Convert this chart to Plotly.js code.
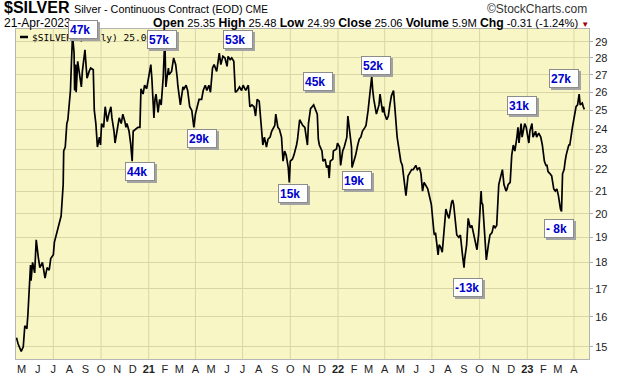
<!DOCTYPE html>
<html>
<head>
<meta charset="utf-8">
<script src="https://cdn.plot.ly/plotly-3.0.1.min.js"></script>
<style>html,body{margin:0;padding:0;background:#fff;}#chart{width:620px;height:376px;}</style>
</head>
<body>
<div id="chart"></div>
<script>
// ---- data: $SILVER daily close ----
const dates = [
"2020-04-21","2020-04-24","2020-04-30","2020-05-04","2020-05-07","2020-05-11","2020-05-13","2020-05-15","2020-05-18","2020-05-19",
"2020-05-22","2020-05-26","2020-05-29","2020-06-02","2020-06-05","2020-06-10","2020-06-15","2020-06-19","2020-06-23","2020-06-26",
"2020-07-01","2020-07-03","2020-07-08","2020-07-13","2020-07-16","2020-07-20","2020-07-21","2020-07-24","2020-07-27","2020-07-29",
"2020-08-03","2020-08-05","2020-08-07","2020-08-10","2020-08-11","2020-08-13","2020-08-14","2020-08-17","2020-08-20","2020-08-24",
"2020-08-26","2020-08-31","2020-09-02","2020-09-04","2020-09-08","2020-09-11","2020-09-16","2020-09-18","2020-09-21","2020-09-24",
"2020-09-28","2020-09-30","2020-10-02","2020-10-06","2020-10-09","2020-10-13","2020-10-16","2020-10-20","2020-10-22","2020-10-26",
"2020-10-28","2020-11-02","2020-11-05","2020-11-09","2020-11-12","2020-11-16","2020-11-18","2020-11-20","2020-11-24","2020-11-27",
"2020-11-30","2020-12-02","2020-12-07","2020-12-11","2020-12-15","2020-12-17","2020-12-21","2020-12-24","2020-12-28","2020-12-31",
"2021-01-05","2021-01-07","2021-01-11","2021-01-13","2021-01-15","2021-01-19","2021-01-22","2021-01-25","2021-01-27","2021-01-29",
"2021-02-01","2021-02-02","2021-02-03","2021-02-05","2021-02-08","2021-02-09","2021-02-14","2021-02-18","2021-02-22","2021-02-25",
"2021-02-26","2021-03-03","2021-03-08","2021-03-10","2021-03-14","2021-03-17","2021-03-21","2021-03-25","2021-03-29","2021-04-01",
"2021-04-05","2021-04-08","2021-04-13","2021-04-16","2021-04-20","2021-04-23","2021-04-27","2021-04-30","2021-05-04","2021-05-07",
"2021-05-12","2021-05-17","2021-05-20","2021-05-24","2021-05-28","2021-06-01","2021-06-03","2021-06-07","2021-06-10","2021-06-14",
"2021-06-17","2021-06-21","2021-06-25","2021-06-29","2021-07-02","2021-07-07","2021-07-12","2021-07-15","2021-07-19","2021-07-23",
"2021-07-26","2021-07-29","2021-08-02","2021-08-06","2021-08-09","2021-08-12","2021-08-16","2021-08-19","2021-08-23","2021-08-26",
"2021-08-30","2021-09-01","2021-09-03","2021-09-07","2021-09-10","2021-09-14","2021-09-17","2021-09-20","2021-09-23","2021-09-27",
"2021-09-29","2021-10-01","2021-10-05","2021-10-08","2021-10-13","2021-10-15","2021-10-19","2021-10-25","2021-10-29","2021-11-01",
"2021-11-03","2021-11-05","2021-11-09","2021-11-15","2021-11-18","2021-11-22","2021-11-24","2021-11-26","2021-12-01","2021-12-03",
"2021-12-07","2021-12-10","2021-12-13","2021-12-15","2021-12-17","2021-12-22","2021-12-23","2021-12-29","2021-12-31","2022-01-04",
"2022-01-06","2022-01-10","2022-01-13","2022-01-18","2022-01-20","2022-01-24","2022-01-27","2022-01-28","2022-02-01","2022-02-04",
"2022-02-08","2022-02-11","2022-02-14","2022-02-17","2022-02-22","2022-02-24","2022-02-28","2022-03-02","2022-03-04","2022-03-07",
"2022-03-09","2022-03-11","2022-03-16","2022-03-21","2022-03-23","2022-03-28","2022-03-30","2022-04-01","2022-04-05","2022-04-08",
"2022-04-11","2022-04-14","2022-04-18","2022-04-20","2022-04-21","2022-04-25","2022-04-27","2022-04-29","2022-05-02","2022-05-05",
"2022-05-09","2022-05-12","2022-05-16","2022-05-18","2022-05-23","2022-05-26","2022-05-31","2022-06-03","2022-06-07","2022-06-10",
"2022-06-13","2022-06-16","2022-06-21","2022-06-23","2022-06-27","2022-06-30","2022-07-05","2022-07-06","2022-07-08","2022-07-13",
"2022-07-15","2022-07-18","2022-07-21","2022-07-25","2022-07-28","2022-08-01","2022-08-03","2022-08-08","2022-08-10","2022-08-12",
"2022-08-15","2022-08-18","2022-08-22","2022-08-25","2022-08-29","2022-09-01","2022-09-02","2022-09-06","2022-09-09","2022-09-13",
"2022-09-16","2022-09-19","2022-09-22","2022-09-26","2022-09-29","2022-10-04","2022-10-05","2022-10-07","2022-10-10","2022-10-12",
"2022-10-14","2022-10-18","2022-10-21","2022-10-25","2022-10-28","2022-10-31","2022-11-03","2022-11-07","2022-11-10","2022-11-14",
"2022-11-17","2022-11-21","2022-11-23","2022-11-25","2022-11-29","2022-12-01","2022-12-02","2022-12-05","2022-12-08","2022-12-12",
"2022-12-14","2022-12-16","2022-12-20","2022-12-22","2022-12-27","2022-12-30","2023-01-04","2023-01-06","2023-01-10","2023-01-12",
"2023-01-17","2023-01-19","2023-01-23","2023-01-27","2023-01-30","2023-02-03","2023-02-06","2023-02-08","2023-02-10","2023-02-14",
"2023-02-17","2023-02-21","2023-02-24","2023-02-27","2023-03-02","2023-03-06","2023-03-08","2023-03-10","2023-03-13","2023-03-15",
"2023-03-17","2023-03-22","2023-03-24","2023-03-29","2023-04-03","2023-04-05","2023-04-08","2023-04-11","2023-04-13","2023-04-17",
"2023-04-19","2023-04-21"
];
const closes = [
15.30,15.10,14.85,15.00,15.70,15.60,16.10,16.70,17.90,17.30,
18.00,17.60,18.90,18.20,17.80,18.00,17.40,17.80,17.70,18.15,
18.30,18.80,19.20,19.70,19.90,21.30,22.90,23.10,24.30,24.50,
26.10,27.80,29.40,28.30,26.10,27.60,26.00,27.80,27.00,26.30,
27.20,28.50,27.60,26.80,27.20,27.40,27.30,25.00,24.30,23.10,
23.60,23.20,24.30,24.10,25.20,24.40,24.80,25.20,24.60,23.90,
23.30,24.10,24.60,24.30,24.80,24.40,24.10,24.30,23.90,23.30,
22.40,23.90,24.00,24.10,24.10,26.20,25.90,26.40,26.20,26.70,
27.60,26.80,24.60,25.60,25.90,24.90,25.60,25.30,25.90,26.90,
29.30,26.60,26.30,26.80,27.40,27.00,27.20,28.00,27.60,26.80,
26.40,25.30,26.30,26.20,26.40,26.10,25.20,25.00,24.10,24.80,
25.30,25.60,25.60,26.10,26.40,26.10,26.40,26.00,27.40,27.60,
27.20,28.30,27.60,28.10,28.00,27.50,28.10,27.90,28.00,27.80,
26.00,26.10,26.30,26.10,26.40,26.10,26.40,25.20,25.30,25.20,
24.70,25.60,25.50,24.10,23.20,23.60,23.10,23.50,23.60,23.90,
24.10,24.20,24.80,24.10,24.00,23.60,22.40,22.90,22.70,22.10,
21.40,22.40,22.50,22.70,23.20,23.50,24.50,24.20,24.10,23.60,
23.20,24.30,25.10,25.30,25.10,24.80,23.50,23.20,22.90,22.40,
22.50,22.10,22.20,21.60,22.40,22.50,22.90,23.00,23.30,23.10,
22.20,22.90,23.10,23.60,24.70,23.90,23.10,22.10,22.40,22.70,
23.20,23.50,23.60,23.90,24.10,24.20,25.00,25.50,26.10,26.90,
26.10,25.60,24.80,25.30,25.90,24.90,25.20,24.80,24.50,24.70,
25.30,25.80,26.10,25.60,25.00,23.60,23.30,22.90,22.40,22.20,
21.30,20.80,21.70,21.80,22.00,22.00,22.20,22.00,22.10,21.80,
21.00,21.40,21.20,21.10,20.70,20.40,19.20,19.10,19.20,18.30,
18.70,18.60,18.40,19.40,20.20,19.90,19.80,20.50,20.60,20.40,
19.80,19.10,19.00,19.10,18.30,17.80,18.10,18.70,19.80,19.40,
19.50,19.20,18.90,18.50,19.10,21.00,20.50,20.40,19.40,18.90,
18.10,18.70,19.10,19.20,19.50,19.40,19.50,21.30,21.60,22.00,
21.30,21.00,21.10,21.30,21.40,22.40,22.70,23.20,22.90,23.60,
24.10,23.30,24.30,23.60,24.30,24.10,23.30,23.90,24.30,23.60,
23.90,23.60,23.80,23.60,23.20,22.40,22.20,22.20,21.90,21.80,
21.70,21.10,21.00,21.10,20.80,20.20,20.10,21.80,22.00,22.40,
22.70,23.20,23.20,24.10,25.00,25.20,25.30,25.90,25.30,25.40,
25.20,25.06
];

// COT net position call-outs
const calloutText = ["47k","57k","53k","44k","29k","15k","45k","19k","52k","31k","-13k","- 8k","27k"];
// box centres (date, price) — positions only
const calloutDate = ["2020-08-28","2021-01-27","2021-06-22","2020-12-15","2021-04-14","2021-10-07","2021-11-24","2022-02-07","2022-03-16","2022-12-22","2022-09-09","2023-03-04","2023-03-13"];
const calloutPrice = [29.76,29.16,29.13,21.93,23.51,20.88,26.60,21.47,27.54,25.28,17.06,19.36,26.76];

// axis ticks
const priceTicks = [15,16,17,18,19,20,21,22,23,24,25,26,27,28,29];
const monthTickVals = ["2020-05-01","2020-06-01","2020-07-01","2020-08-01","2020-09-01","2020-10-01","2020-11-01","2020-12-01",
"2021-01-01","2021-02-01","2021-03-01","2021-04-01","2021-05-01","2021-06-01","2021-07-01","2021-08-01","2021-09-01","2021-10-01","2021-11-01","2021-12-01",
"2022-01-01","2022-02-01","2022-03-01","2022-04-01","2022-05-01","2022-06-01","2022-07-01","2022-08-01","2022-09-01","2022-10-01","2022-11-01","2022-12-01",
"2023-01-01","2023-02-01","2023-03-01","2023-04-01"];
const monthTickText = ["M","J","J","A","S","O","N","D",
"<b>21</b>","F","M","A","M","J","J","A","S","O","N","D",
"<b>22</b>","F","M","A","M","J","J","A","S","O","N","D",
"<b>23</b>","F","M","A"];
const quarterGrid = ["2020-07-01","2020-10-01","2021-01-01","2021-04-01","2021-07-01","2021-10-01","2022-01-01","2022-04-01","2022-07-01","2022-10-01","2023-01-01","2023-04-01"];

// ---- layout helpers ----
const W = 620, H = 376, ML = 16, MR = 31, MT = 29, MB = 17;
const PW = W - ML - MR, PH = H - MT - MB;
const px = x => (x - ML) / PW;          // pixel -> paper x
const py = y => (H - MB - y) / PH;      // pixel -> paper y
const gridColor = "#d8d5a7";
const FONT = "Arial, 'Liberation Sans', sans-serif";

const shapes = quarterGrid.map(d => ({
  type: "line", xref: "x", yref: "paper", x0: d, x1: d, y0: 0, y1: 1,
  line: {color: gridColor, width: 1}, layer: "below"
}));
// legend line sample
shapes.push({type: "line", xref: "paper", yref: "paper", x0: px(20), x1: px(28), y0: py(37), y1: py(37),
  line: {color: "#000", width: 2.5}});

const B = s => "<b><span style='font-size:12.2px'>" + s + "</span></b>";
const annotations = [];
// header
annotations.push({xref: "paper", yref: "paper", x: px(2), y: py(8), xanchor: "left", yanchor: "middle", showarrow: false,
  text: "<b>$SILVER</b>", font: {family: FONT, size: 16, color: "#000"}});
annotations.push({xref: "paper", yref: "paper", x: px(72), y: py(9), xanchor: "left", yanchor: "middle", showarrow: false,
  text: "Silver - Continuous Contract (EOD) <span style='font-size:10px'>CME</span>",
  font: {family: FONT, size: 10.8, color: "#000"}});
annotations.push({xref: "paper", yref: "paper", x: px(589), y: py(9), xanchor: "right", yanchor: "middle", showarrow: false,
  text: "©StockCharts.com", font: {family: FONT, size: 12, color: "#333"}});
annotations.push({xref: "paper", yref: "paper", x: px(2), y: py(23), xanchor: "left", yanchor: "middle", showarrow: false,
  text: "21-Apr-2023", font: {family: FONT, size: 12, color: "#000"}});
annotations.push({xref: "paper", yref: "paper", x: px(591), y: py(23), xanchor: "right", yanchor: "middle", showarrow: false,
  text: B("Open") + " 25.35 " + B("High") + " 25.48 " + B("Low") + " 24.99 " + B("Close") + " 25.06 " + B("Volume") + " 5.9M " + B("Chg") + " -0.31 (-1.24%) <span style='color:#990000;font-size:8px'>▼</span>",
  font: {family: FONT, size: 11.2, color: "#000"}});
// in-plot legend
annotations.push({xref: "paper", yref: "paper", x: px(30), y: py(37), xanchor: "left", yanchor: "middle", showarrow: false,
  text: "$SILVER (Daily) 25.06", font: {family: "'DejaVu Sans Mono', monospace", size: 9.5, color: "#000"}});
// call-out boxes with drop shadow
calloutText.forEach((t, i) => {
  const base = {xref: "x", yref: "y", x: calloutDate[i], y: Math.log10(calloutPrice[i]),
    xanchor: "center", yanchor: "middle", showarrow: false, width: 26, height: 15, align: "left",
    borderpad: 1, borderwidth: 1};
  annotations.push(Object.assign({}, base, {text: "&nbsp;", xshift: 2, yshift: -2, bgcolor: "#a3a3a3", bordercolor: "#a3a3a3",
    font: {family: FONT, size: 12, color: "#a3a3a3"}}));
  annotations.push(Object.assign({}, base, {text: "<b>" + t + "</b>", bgcolor: "#ffffff", bordercolor: "#8c8c8c",
    font: {family: FONT, size: 12, color: "#0000cc"}}));
});

const trace = {
  type: "scatter", mode: "lines", x: dates, y: closes,
  line: {color: "#000", width: 1.7}, hoverinfo: "skip", showlegend: false
};

const layout = {
  width: W, height: H,
  margin: {l: ML, r: MR, t: MT, b: MB, pad: 0},
  paper_bgcolor: "#ffffff", plot_bgcolor: "#f9f6c6",
  showlegend: false,
  xaxis: {
    type: "date", range: ["2020-04-20", "2023-04-30"],
    tickmode: "array", tickvals: monthTickVals, ticktext: monthTickText,
    showgrid: false, zeroline: false, ticks: "", ticklen: 0,
    showline: true, linecolor: "#b5b5b5", linewidth: 1, mirror: true,
    tickfont: {family: FONT, size: 11, color: "#222"}
  },
  yaxis: {
    type: "log", side: "right",
    range: [Math.log10(14.61), Math.log10(29.81)],
    tickmode: "array", tickvals: priceTicks, ticktext: priceTicks.map(String),
    showgrid: true, gridcolor: gridColor, gridwidth: 1, zeroline: false,
    ticks: "outside", ticklen: 3, tickcolor: "#aaa",
    showline: true, linecolor: "#b5b5b5", linewidth: 1, mirror: true,
    tickfont: {family: FONT, size: 11, color: "#222"}
  },
  shapes: shapes,
  annotations: annotations
};

Plotly.newPlot("chart", [trace], layout, {staticPlot: true, displayModeBar: false});
</script>
</body>
</html>
